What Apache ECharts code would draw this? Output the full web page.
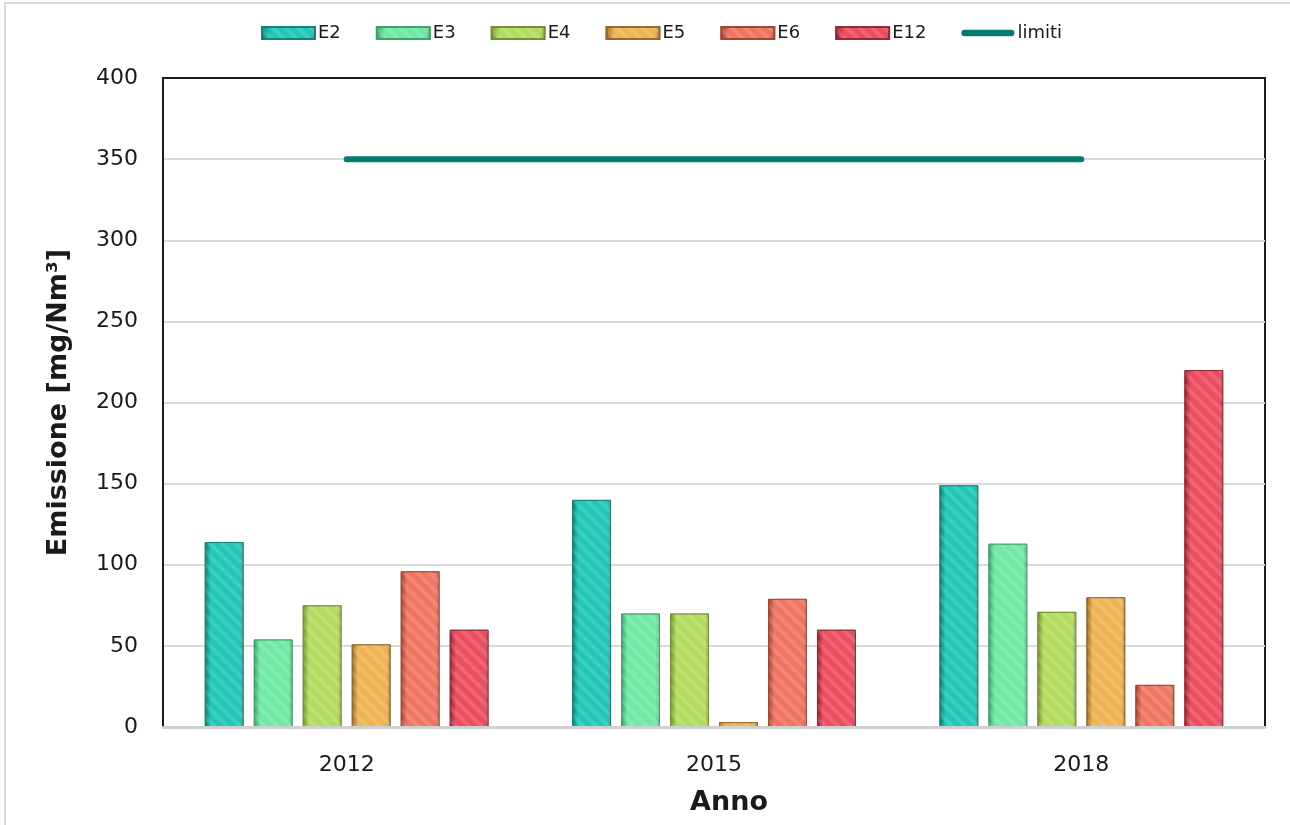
<!DOCTYPE html>
<html>
<head>
<meta charset="utf-8">
<script src="https://cdn.jsdelivr.net/npm/echarts@6/dist/echarts.min.js"></script>
<style>
  html, body { margin: 0; padding: 0; background: #ffffff; }
  #chart { width: 1290px; height: 825px; }
</style>
</head>
<body>
<div id="chart"></div>
<script>
// Anni di campionamento
const years = ['2012', '2015', '2018'];

// Emissioni per punto di emissione [mg/Nm3]
const E2  = [114, 140, 149];
const E3  = [54, 70, 113];
const E4  = [75, 70, 71];
const E5  = [51, 3, 80];
const E6  = [96, 79, 26];
const E12 = [60, 60, 220];

// Limite autorizzato
const limiti = [350, 350, 350];

// Tick asse Y
const yMin = 0, yMax = 400, yStep = 50;

const FONT = 'DejaVu Sans';

// base color + darker shade for the bevelled edge
const palette = {
  E2:  ['#22c7b8', '#0b7a70'],
  E3:  ['#6fe9a3', '#3a9866'],
  E4:  ['#b3dc5f', '#6a8a2c'],
  E5:  ['#eeb454', '#8a6224'],
  E6:  ['#ef7561', '#983d30'],
  E12: ['#ec4e5f', '#8c1f2c']
};

function bevel(base, dark) {
  return {
    type: 'linear', x: 0, y: 0, x2: 1, y2: 0,
    colorStops: [
      { offset: 0, color: dark },
      { offset: 0.16, color: base },
      { offset: 0.9, color: base },
      { offset: 1, color: dark + 'aa' }
    ]
  };
}

const stripes = {
  symbol: 'rect',
  symbolSize: 1,
  dashArrayX: [1, 0],
  dashArrayY: [4, 5],
  rotation: Math.PI / 4,
  color: 'rgba(255,255,255,0.13)'
};

function barSeries(name, values) {
  const [base, dark] = palette[name];
  return {
    name: name,
    type: 'bar',
    data: values,
    barWidth: 39,
    barGap: '25.6%',
    itemStyle: {
      color: bevel(base, dark),
      borderColor: dark + 'bb',
      borderWidth: 1,
      decal: stripes
    },
    emphasis: { disabled: true }
  };
}

const chart = echarts.init(document.getElementById('chart'), null, { renderer: 'canvas' });

chart.setOption({
  animation: false,
  backgroundColor: '#ffffff',
  graphic: [{
    type: 'rect',
    shape: { x: 5, y: 3, width: 1320, height: 900 },
    style: { fill: 'none', stroke: '#d9d9d9', lineWidth: 2 },
    silent: true,
    z: -10
  }],
  grid: {
    left: 163, right: 25, top: 78, bottom: 98,
    show: true,
    borderColor: '#1a1a1a',
    borderWidth: 2,
    containLabel: false
  },
  legend: {
    left: 256,
    top: 19,
    itemWidth: 53,
    itemHeight: 12,
    itemGap: 35,
    textStyle: { fontFamily: FONT, fontSize: 18, color: '#1a1a1a', padding: [0, 0, 0, -2] },
    data: [
      { name: 'E2', icon: 'rect' }, { name: 'E3', icon: 'rect' }, { name: 'E4', icon: 'rect' },
      { name: 'E5', icon: 'rect' }, { name: 'E6', icon: 'rect' }, { name: 'E12', icon: 'rect' },
      { name: 'limiti', icon: 'path://M3.5,0 L53.5,0 A3.5,3.5 0 0 1 53.5,7 L3.5,7 A3.5,3.5 0 0 1 3.5,0 Z' }
    ]
  },
  xAxis: {
    type: 'category',
    data: years,
    name: 'Anno',
    nameLocation: 'middle',
    nameGap: 62,
    nameTextStyle: { fontFamily: FONT, fontSize: 27, fontWeight: 'bold', color: '#1a1a1a', padding: [0, 0, 0, 30] },
    axisLine: { show: true, lineStyle: { color: '#d0d0d0', width: 3 } },
    axisTick: { show: false },
    axisLabel: { fontFamily: FONT, fontSize: 22, color: '#1a1a1a', margin: 27 },
    z: 5
  },
  yAxis: {
    type: 'value',
    min: yMin,
    max: yMax,
    interval: yStep,
    name: 'Emissione [mg/Nm³]',
    nameLocation: 'middle',
    nameGap: 91,
    nameTextStyle: { fontFamily: FONT, fontSize: 27, fontWeight: 'bold', color: '#1a1a1a' },
    axisLine: { show: true, lineStyle: { color: '#1a1a1a', width: 2 } },
    axisTick: { show: false },
    axisLabel: { fontFamily: FONT, fontSize: 22, color: '#1a1a1a', margin: 25 },
    splitLine: {
      show: true,
      showMinLine: false,
      showMaxLine: false,
      lineStyle: { color: '#d9d9d9', width: 2 }
    }
  },
  series: [
    barSeries('E2', E2),
    barSeries('E3', E3),
    barSeries('E4', E4),
    barSeries('E5', E5),
    barSeries('E6', E6),
    barSeries('E12', E12),
    {
      name: 'limiti',
      type: 'line',
      data: limiti,
      symbol: 'none',
      itemStyle: { color: '#047b6f' },
      lineStyle: { color: '#047b6f', width: 6, cap: 'round' },
      z: 10,
      emphasis: { disabled: true }
    }
  ]
});
</script>
</body>
</html>
